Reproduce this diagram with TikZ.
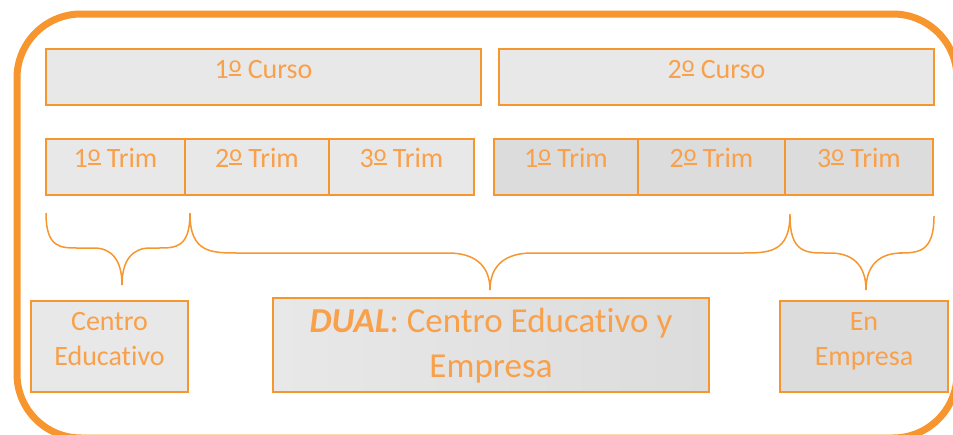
\documentclass[tikz,border=0pt]{standalone}
\usepackage{fontspec}
\setmainfont[Ligatures=NoCommon]{Carlito}
\definecolor{frameor}{HTML}{F7962F}
\definecolor{txtor}{HTML}{F9A04A}
\definecolor{lightg}{HTML}{E8E8E8}
\definecolor{darkg}{HTML}{DCDCDC}
% masculine ordinal indicator drawn as an underlined raised o
\newsavebox\ordbox
\newcommand\ordo{\sbox\ordbox{\fontsize{24}{24}\selectfont o}\rlap{\raisebox{6pt}{\usebox\ordbox}}\rule[2.5pt]{\wd\ordbox}{2pt}}
% #1 x1, #2 xt, #3 x2, #4 y0, #5 ym, #6 yb, #7 end radius, #8 tip radius
\newcommand\mybrace[8]{%
  \draw[bracestyle] (#1,#4) .. controls (#1,#5) and ({#1+0.45*#7},#5) .. ({#1+#7},#5)
    -- ({#2-#8},#5) .. controls ({#2-0.4*#8},#5) and (#2,{#5+0.3*(#6-#5)}) .. (#2,#6)
    .. controls (#2,{#5+0.3*(#6-#5)}) and ({#2+0.4*#8},#5) .. ({#2+#8},#5)
    -- ({#3-#7},#5) .. controls ({#3-0.45*#7},#5) and (#3,#5) .. (#3,#4);}
\tikzset{
  box/.style={draw=frameor, line width=1.6pt, anchor=north west, inner sep=0pt, outer sep=0pt},
  lab/.style={text=txtor, font=\fontsize{28}{34}\selectfont, inner sep=0pt, anchor=base},
  biglab/.style={text=txtor, font=\fontsize{35}{42}\selectfont, inner sep=0pt, anchor=base},
  bracestyle/.style={draw=frameor, line width=1.5pt}
}
\begin{document}
\begin{tikzpicture}[x=1pt,y=-1pt]
\useasboundingbox (0,0) rectangle (953,434);
\clip (0,0) rectangle (953,434);
\draw[frameor, line width=7pt, rounded corners=64pt] (17,14) rectangle (957,438);

% Cursos
\node[box, fill=lightg, minimum width=435pt, minimum height=56pt] (c1) at (46,49) {};
\node[box, fill=lightg, minimum width=435pt, minimum height=56pt] (c2) at (499,49) {};
\node[lab] (c1t) at (263.5,78) {1\ordo{} Curso};
\node[lab] (c2t) at (716.5,78) {2\ordo{} Curso};

% Trimestres curso 1
\node[box, fill=lightg, minimum width=139pt, minimum height=56pt] (t11) at (46,139) {};
\node[box, fill=lightg, minimum width=144pt, minimum height=56pt] (t12) at (185,139) {};
\node[box, fill=lightg, minimum width=145pt, minimum height=56pt] (t13) at (329,139) {};
\node[lab] (t11t) at (115.5,167) {1\ordo{} Trim};
\node[lab] (t12t) at (257,167) {2\ordo{} Trim};
\node[lab] (t13t) at (401.5,167) {3\ordo{} Trim};

% Trimestres curso 2
\node[box, fill=darkg, minimum width=144pt, minimum height=56pt] (t21) at (494,139) {};
\node[box, fill=darkg, minimum width=147pt, minimum height=56pt] (t22) at (638,139) {};
\node[box, fill=darkg, minimum width=148pt, minimum height=56pt] (t23) at (785,139) {};
\node[lab] (t21t) at (566,167) {1\ordo{} Trim};
\node[lab] (t22t) at (711.5,167) {2\ordo{} Trim};
\node[lab] (t23t) at (859,167) {3\ordo{} Trim};

% Braces
\mybrace{46}{122}{190}{213}{248}{285}{32}{28}
\mybrace{190}{490}{790}{214}{253}{290}{48}{42}
\mybrace{790}{866}{934}{216}{253}{290}{36}{36}

% Bottom boxes
\node[box, fill=lightg, minimum width=157pt, minimum height=91pt] (ce) at (31,301) {};
\node[lab] (ce1) at (109.5,330) {Centro};
\node[lab] (ce2) at (109.5,365) {Educativo};

\node[box, left color=lightg, right color=darkg, minimum width=436pt, minimum height=94pt] (du) at (273,298) {};
\node[biglab] (du1) at (491,332) {\textbf{\textit{DUAL}}: Centro Educativo y};
\node[biglab] (du2) at (491,377) {Empresa};

\node[box, fill=darkg, minimum width=168pt, minimum height=91pt] (em) at (780,301) {};
\node[lab] (em1) at (864,330) {En};
\node[lab] (em2) at (864,365) {Empresa};
\end{tikzpicture}
\end{document}
